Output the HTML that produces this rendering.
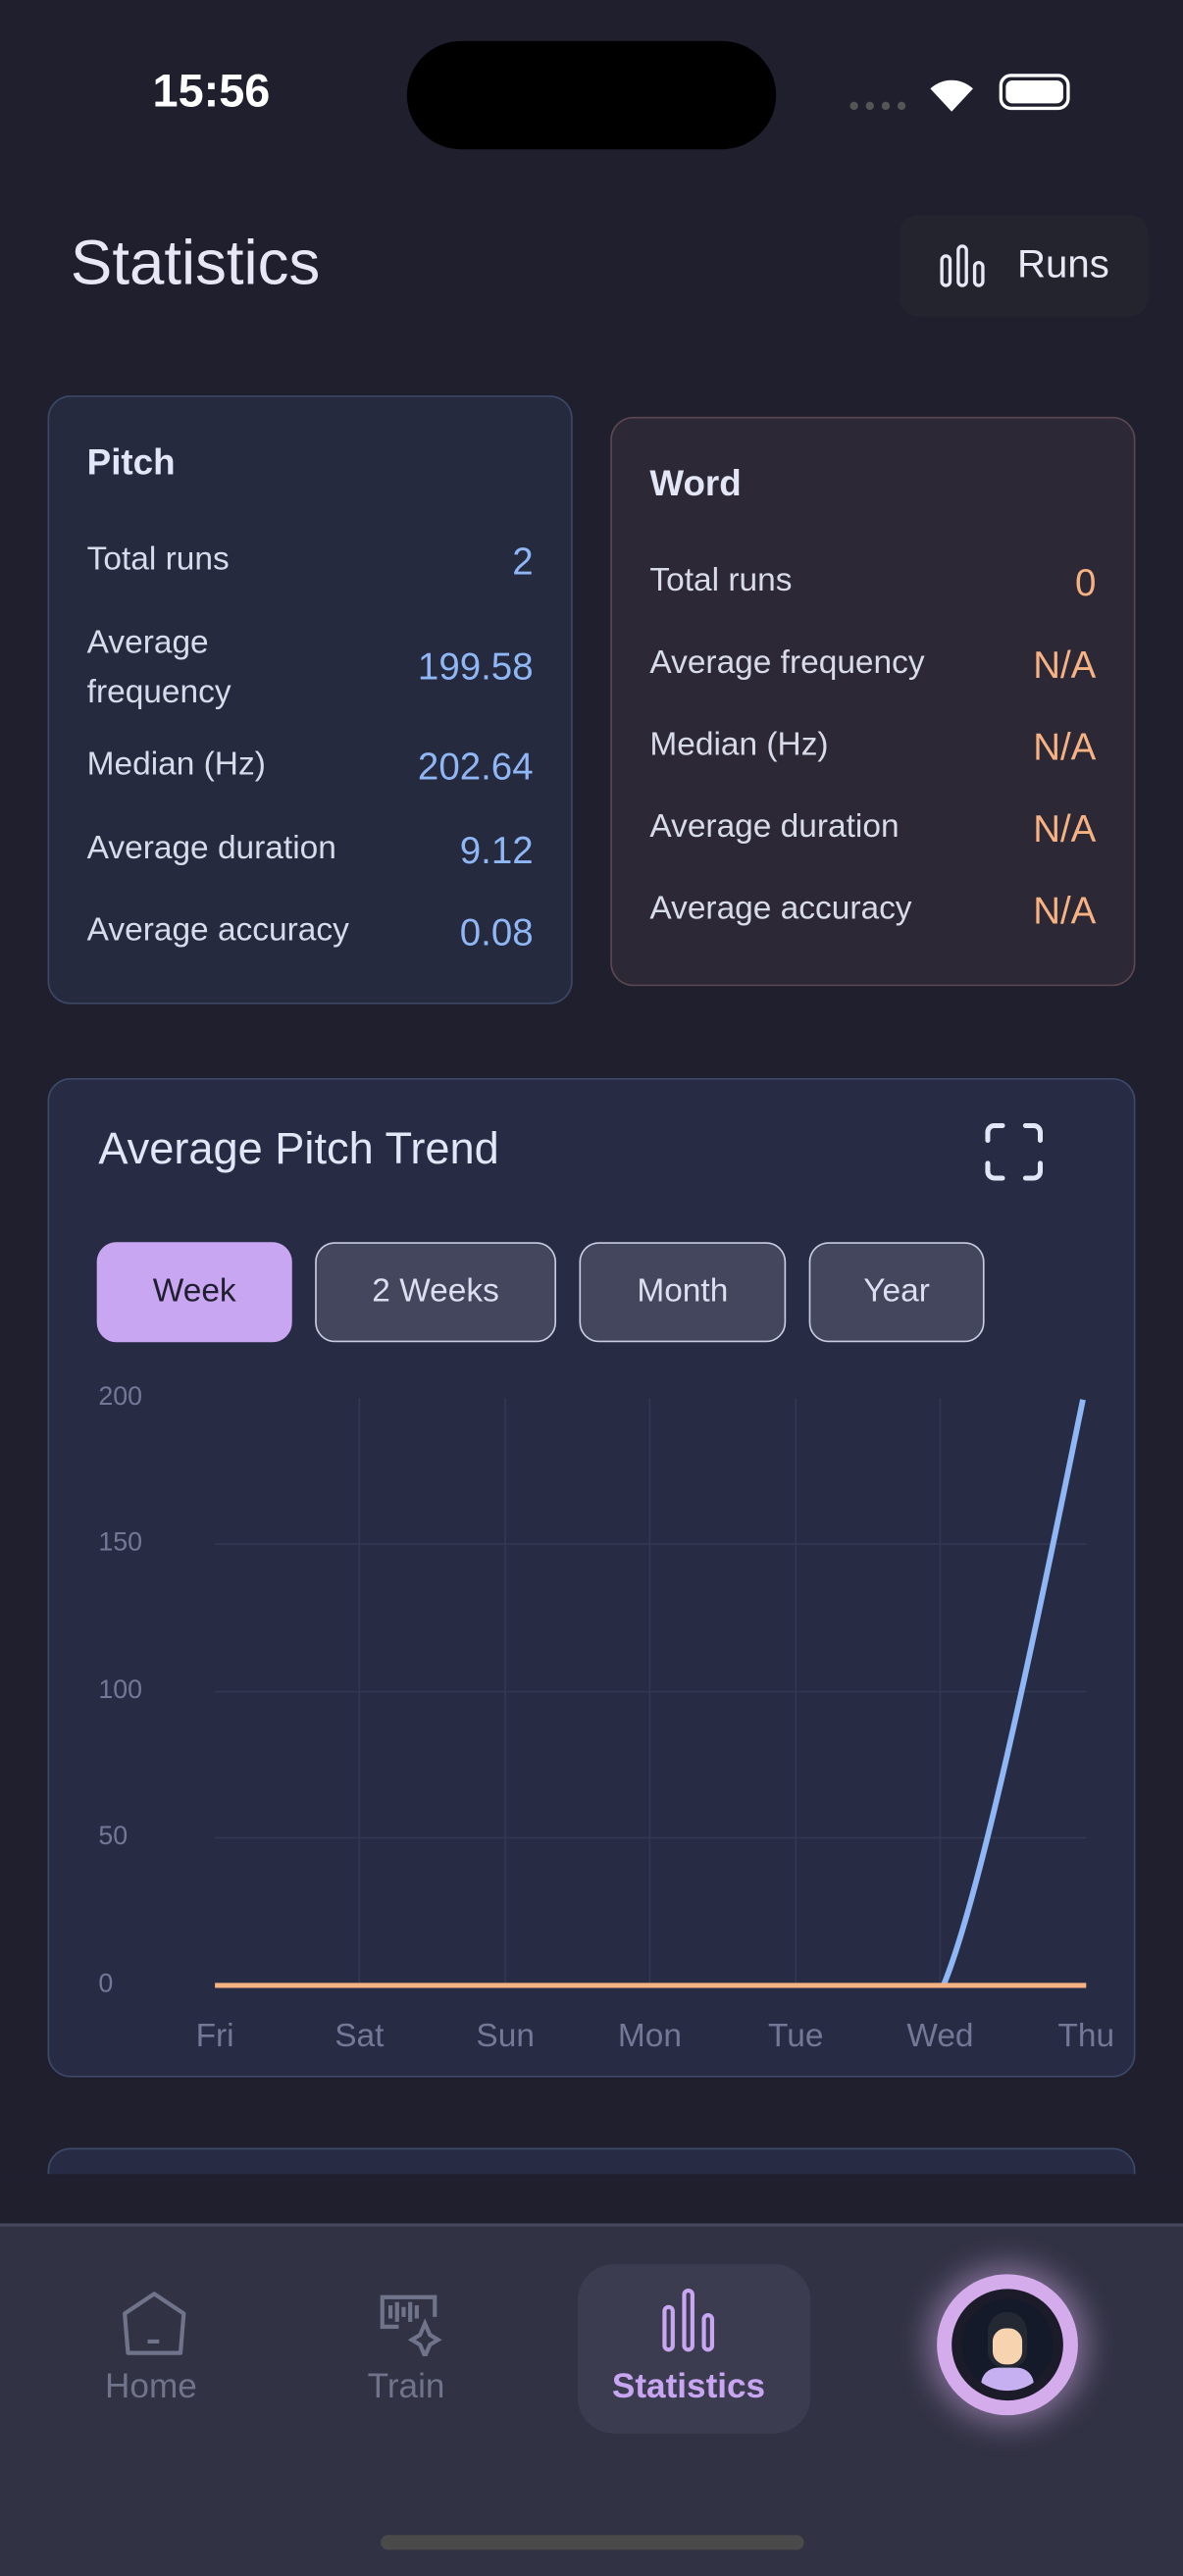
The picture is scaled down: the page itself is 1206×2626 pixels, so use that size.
<!DOCTYPE html>
<html><head><meta charset="utf-8"><style>
html,body{margin:0;padding:0;background:#1f1f2e;width:1206px;height:2622px;overflow:hidden}
#s{position:absolute;left:0;top:0;width:721px;height:1568px;transform:scale(1.67268);transform-origin:0 0;font-family:"Liberation Sans",sans-serif;color:#dde0f2}
.a{position:absolute}
.card{position:absolute;border-radius:14px;box-sizing:border-box}
.row{position:absolute;left:23px;right:23px;font-size:20px;color:#d8dbea}
.row b{position:absolute;right:0;top:-1px;font-weight:normal;font-size:23px}
.btn{position:absolute;top:757px;height:61px;border-radius:12px;box-sizing:border-box;border:1.5px solid #c9cbe0;background:#43465c;color:#dcdff0;font-size:20px;text-align:center;line-height:58px}
.yl{position:absolute;left:60px;font-size:16px;color:#737896}
.xl{position:absolute;top:1230px;font-size:20px;color:#737896;transform:translateX(-50%)}
</style></head><body><div id="s">
<div class="a" style="left:93px;top:40px;font-size:28px;font-weight:bold;color:#fff">15:56</div>
<div class="a" style="left:248px;top:25px;width:225px;height:66px;border-radius:33px;background:#000"></div>
<div class="a" style="left:518px;top:62px;width:34px;height:5px;border-top:5px dotted #555;"></div>
<svg class="a" style="left:563px;top:44px" width="34" height="26"><path d="M17 24 L4 10 A19 19 0 0 1 30 10 Z" fill="#fff"/></svg>
<div class="a" style="left:609px;top:45px;width:43px;height:22px;border:2px solid #fff;border-radius:7px;box-sizing:border-box;padding:2px"><div style="background:#fff;height:100%;border-radius:4px"></div></div>
<div class="a" style="left:43px;top:140px;font-size:38px;color:#e6e8f5">Statistics</div>
<div class="a" style="left:548px;top:131px;width:152px;height:62px;border-radius:12px;background:#24242f"></div>
<svg class="a" style="left:572px;top:148px" width="30" height="28" fill="none" stroke="#e6e8f5" stroke-width="2"><rect x="2" y="8" width="5" height="18" rx="2.5"/><rect x="12" y="2" width="5" height="24" rx="2.5"/><rect x="22" y="12" width="5" height="14" rx="2.5"/></svg>
<div class="a" style="left:620px;top:148px;font-size:24px;color:#e6e8f5">Runs</div>

<div class="card" style="left:29px;top:241px;width:320px;height:371px;background:#252a3f;border:1.5px solid #3c4766">
<div class="a" style="left:23px;top:27px;font-size:22px;font-weight:bold;color:#e3e6f7">Pitch</div>
<div class="row" style="top:88px">Total runs<b style="color:#8fb7f5">2</b></div>
<div class="row" style="top:135px;line-height:30px">Average<br>frequency<b style="color:#8fb7f5;top:14px">199.58</b></div>
<div class="row" style="top:213px">Median (Hz)<b style="color:#8fb7f5">202.64</b></div>
<div class="row" style="top:264px">Average duration<b style="color:#8fb7f5">9.12</b></div>
<div class="row" style="top:314px">Average accuracy<b style="color:#8fb7f5">0.08</b></div>
</div>
<div class="card" style="left:372px;top:254px;width:320px;height:347px;background:#2d2835;border:1.5px solid #5a4750">
<div class="a" style="left:23px;top:27px;font-size:22px;font-weight:bold;color:#e3e6f7">Word</div>
<div class="row" style="top:88px">Total runs<b style="color:#f7b284">0</b></div>
<div class="row" style="top:138px">Average frequency<b style="color:#f7b284">N/A</b></div>
<div class="row" style="top:188px">Median (Hz)<b style="color:#f7b284">N/A</b></div>
<div class="row" style="top:238px">Average duration<b style="color:#f7b284">N/A</b></div>
<div class="row" style="top:288px">Average accuracy<b style="color:#f7b284">N/A</b></div>
</div>

<div class="card" style="left:29px;top:657px;width:663px;height:609px;background:#272c44;border:1.5px solid #3d4868"></div>
<div class="a" style="left:60px;top:685px;font-size:27px;color:#e3e6f7">Average Pitch Trend</div>
<svg class="a" style="left:600px;top:684px" width="36" height="36" fill="none" stroke="#e3e6f7" stroke-width="3" stroke-linecap="round"><path d="M2 11V6a4 4 0 0 1 4-4h5M25 2h5a4 4 0 0 1 4 4v5M34 25v5a4 4 0 0 1-4 4h-5M11 34H6a4 4 0 0 1-4-4v-5"/></svg>
<div class="btn" style="left:59px;width:119px;background:#c9a6f2;border-color:#c9a6f2;color:#1f1f2e">Week</div>
<div class="btn" style="left:192px;width:147px">2 Weeks</div>
<div class="btn" style="left:353px;width:126px">Month</div>
<div class="btn" style="left:493px;width:107px">Year</div>
<svg class="a" style="left:0;top:0" width="721" height="1300">
<g stroke="#323852" stroke-width="1">
<line x1="131" y1="941" x2="662" y2="941"/><line x1="131" y1="1031" x2="662" y2="1031"/><line x1="131" y1="1120" x2="662" y2="1120"/>
<line x1="219" y1="852" x2="219" y2="1210"/><line x1="308" y1="852" x2="308" y2="1210"/><line x1="396" y1="852" x2="396" y2="1210"/><line x1="485" y1="852" x2="485" y2="1210"/><line x1="573" y1="852" x2="573" y2="1210"/>
</g>
<path d="M575 1210 C 600 1150, 640 950, 660 853" stroke="#8fb7f5" stroke-width="3.5" fill="none"/>
<line x1="131" y1="1210" x2="662" y2="1210" stroke="#f7b284" stroke-width="3"/>
</svg>
<div class="yl" style="top:843px">200</div><div class="yl" style="top:932px">150</div><div class="yl" style="top:1022px">100</div><div class="yl" style="top:1111px">50</div><div class="yl" style="top:1201px">0</div>
<div class="xl" style="left:131px">Fri</div><div class="xl" style="left:219px">Sat</div><div class="xl" style="left:308px">Sun</div><div class="xl" style="left:396px">Mon</div><div class="xl" style="left:485px">Tue</div><div class="xl" style="left:573px">Wed</div><div class="xl" style="left:662px">Thu</div>

<div class="card" style="left:29px;top:1309px;width:663px;height:80px;background:#272c44;border:1.5px solid #3d4868"></div>
<div class="a" style="left:0;top:1325px;width:721px;height:30px;background:#1f1f2e"></div>
<div class="a" style="left:0;top:1355px;width:721px;height:213px;background:#313244;border-top:2px solid #45475a"></div>
<svg class="a" style="left:74px;top:1396px" width="40" height="42" fill="none" stroke="#70748a" stroke-width="2.5" stroke-linejoin="round"><path d="M20 2 L38 14 L36 38 H4 L2 14 Z"/><line x1="16" y1="31" x2="23" y2="31"/></svg>
<div class="a" style="left:64px;top:1443px;font-size:21px;color:#70748a">Home</div>
<svg class="a" style="left:229px;top:1398px" width="42" height="38" fill="none" stroke="#70748a" stroke-width="2.5"><path d="M14 20H4V2h32v12"/><path d="M9 7v8M13 5v12M17 8v6M21 5v12M25 7v8"/><path d="M30 18 l3 7 5 3-5 3-3 7-3-7-5-3 5-3z"/></svg>
<div class="a" style="left:224px;top:1443px;font-size:21px;color:#70748a">Train</div>
<div class="a" style="left:352px;top:1380px;width:142px;height:103px;border-radius:22px;background:#3b3c50"></div>
<svg class="a" style="left:403px;top:1394px" width="36" height="40" fill="none" stroke="#c9a6f2" stroke-width="2.5"><rect x="2" y="12" width="5" height="26" rx="2.5"/><rect x="14" y="2" width="5" height="36" rx="2.5"/><rect x="26" y="17" width="5" height="21" rx="2.5"/></svg>
<div class="a" style="left:373px;top:1443px;font-size:21px;font-weight:bold;color:#c9a6f2">Statistics</div>
<div class="a" style="left:571px;top:1386px;width:86px;height:86px;border-radius:50%;background:#d4acec;box-shadow:0 0 18px 6px rgba(220,180,240,0.45)"></div>
<div class="a" style="left:580px;top:1395px;width:68px;height:68px;border-radius:50%;background:#1c1b2a"></div>
<div class="a" style="left:586px;top:1401px;width:56px;height:56px;border-radius:50%;background:#151a2a;overflow:hidden">
<div class="a" style="left:16px;top:8px;width:24px;height:34px;border-radius:12px 12px 10px 10px;background:#232833"></div>
<div class="a" style="left:19px;top:18px;width:18px;height:22px;border-radius:8px;background:#f7d3b0"></div>
<div class="a" style="left:12px;top:42px;width:32px;height:20px;border-radius:14px;background:#c6b0f2"></div>
</div>
<div class="a" style="left:232px;top:1545px;width:258px;height:9px;border-radius:5px;background:#4a4a4a"></div>
</div></body></html>
